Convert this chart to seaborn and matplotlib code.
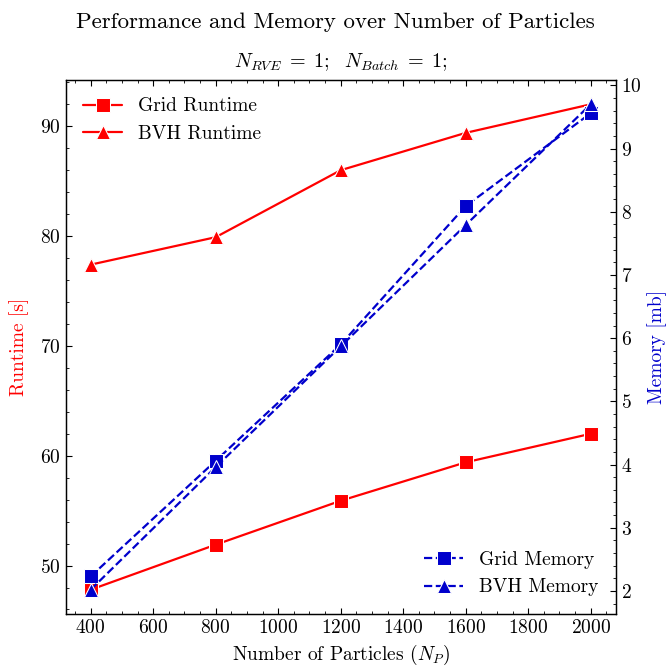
import matplotlib
matplotlib.use("Agg")
import matplotlib.pyplot as plt
from matplotlib.ticker import AutoMinorLocator, MultipleLocator
import seaborn as sns

# Benchmark results
particles = [400, 800, 1200, 1600, 2000]
grid_runtime = [47.8, 51.9, 55.9, 59.4, 62.0]
bvh_runtime = [77.4, 79.9, 86.0, 89.4, 92.0]
grid_memory = [2.23, 4.06, 5.90, 8.09, 9.56]
bvh_memory = [2.02, 3.96, 5.87, 7.79, 9.70]

RED = "#ff0000"
BLUE = "#0000cc"

sns.set_theme(style="ticks")
plt.rcParams.update({
    "font.family": ["cmr10", "DejaVu Serif"],
    "mathtext.fontset": "cm",
    "axes.formatter.use_mathtext": True,
    "axes.unicode_minus": False,
    "font.size": 14,
    "axes.labelsize": 14,
    "axes.titlesize": 14,
    "xtick.labelsize": 14,
    "ytick.labelsize": 14,
    "legend.fontsize": 14,
    "axes.edgecolor": "black",
    "axes.linewidth": 0.9,
    "text.color": "black",
    "axes.labelcolor": "black",
    "xtick.color": "black",
    "ytick.color": "black",
})

fig, ax1 = plt.subplots(figsize=(6.7, 6.67), dpi=100)
fig.subplots_adjust(left=0.098, right=0.919, top=0.880, bottom=0.0795)
ax2 = ax1.twinx()

line_kw = dict(linewidth=1.6, markersize=10)

sns.lineplot(x=particles, y=grid_runtime, ax=ax1, color=RED, marker="s",
             label="Grid Runtime", **line_kw)
sns.lineplot(x=particles, y=bvh_runtime, ax=ax1, color=RED, marker="^",
             label="BVH Runtime", **line_kw)
sns.lineplot(x=particles, y=grid_memory, ax=ax2, color=BLUE, marker="s",
             linestyle="--", label="Grid Memory", **line_kw)
sns.lineplot(x=particles, y=bvh_memory, ax=ax2, color=BLUE, marker="^",
             linestyle="--", label="BVH Memory", **line_kw)

ax1.set_xlabel(r"Number of Particles ($N_P$)")
ax1.set_ylabel("Runtime [s]", color=RED, labelpad=8)
ax2.set_ylabel("Memory [mb]", color=BLUE, labelpad=4)

ax1.xaxis.set_major_locator(MultipleLocator(200))
ax1.yaxis.set_major_locator(MultipleLocator(10))
ax2.yaxis.set_major_locator(MultipleLocator(1))
for a in (ax1, ax2):
    a.xaxis.set_minor_locator(AutoMinorLocator())
    a.yaxis.set_minor_locator(AutoMinorLocator())
    a.tick_params(which="major", direction="in", length=4.5, width=0.8)
    a.tick_params(which="minor", direction="in", length=2.4, width=0.6)
ax1.tick_params(which="both", top=True, right=False, left=True, bottom=True)
ax2.tick_params(which="both", right=True, left=False)

ax1.legend(loc="upper left", frameon=False)
ax2.legend(loc="lower right", frameon=False)

ax1.set_title(r"$N_{RVE}\;=\;1;\ \ N_{Batch}\;=\;1;$", pad=9, fontsize=14.5)
fig.suptitle("Performance and Memory over Number of Particles",
             fontsize=16.5, y=1 - 22 / 667, va="center")

fig.savefig("out.png", dpi=100)
